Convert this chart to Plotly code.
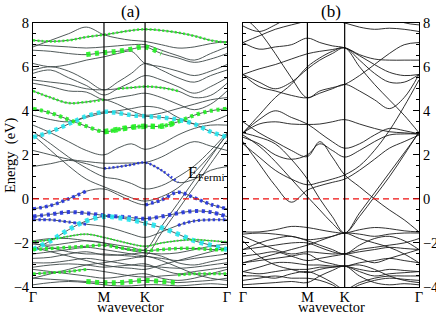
import plotly.graph_objects as go

# k-path nodes (fractional path length, hexagonal BZ: Γ-M-K-Γ)
k_nodes = [0.0, 0.144, 0.289, 0.433, 0.577, 0.688, 0.800, 0.911, 1.044, 1.178, 1.311, 1.444, 1.577]
k_ticks = [0.0, 0.577, 0.911, 1.577]
k_labels = ["Γ", "M", "K", "Γ"]

# ---------------- panel (a) bands (eV at k_nodes) ----------------
a01 = [6.9, 7.2, 7.5, 7.8, 7.45, 7.3, 7.2, 7.15, 7.0, 6.85, 6.9, 7.05, 7.15]
a02 = [7.2, 7.15, 7.2, 7.35, 7.45, 7.55, 7.65, 7.7, 7.65, 7.55, 7.4, 7.2, 7.1]
a03 = [7.0, 6.95, 6.9, 6.85, 6.9, 6.95, 7.0, 7.0, 6.75, 6.5, 6.3, 6.6, 6.9]
a04 = [6.75, 6.7, 6.6, 6.55, 6.65, 6.7, 6.8, 6.9, 6.6, 6.4, 6.2, 6.35, 6.6]
a05 = [6.15, 6.0, 6.1, 6.3, 6.45, 6.6, 6.7, 6.15, 6.0, 5.8, 5.6, 5.8, 6.1]
a06 = [5.85, 6.0, 5.8, 5.4, 4.95, 5.3, 5.7, 6.15, 5.85, 5.5, 5.3, 5.6, 5.85]
a07 = [5.7, 5.85, 5.5, 5.15, 4.72, 5.0, 5.3, 5.6, 5.4, 5.1, 4.8, 5.1, 5.5]
a08 = [5.4, 5.3, 5.2, 5.0, 4.95, 5.0, 5.05, 5.1, 5.05, 4.9, 4.6, 4.7, 5.25]
a09 = [5.25, 5.1, 4.9, 4.85, 4.5, 4.6, 4.7, 4.8, 4.6, 4.3, 4.05, 4.3, 4.9]
a10 = [4.9, 4.6, 4.35, 4.4, 4.5, 4.3, 4.0, 3.8, 3.9, 4.1, 4.3, 4.5, 4.6]
a11 = [4.1, 3.9, 3.6, 3.3, 3.05, 3.15, 3.25, 3.3, 3.3, 3.5, 3.8, 4.0, 4.1]
a12 = [2.8, 3.05, 3.4, 3.75, 3.95, 3.9, 3.8, 3.75, 3.7, 3.6, 3.4, 3.05, 2.8]
a13 = [3.8, 3.6, 3.5, 3.7, 3.9, 4.0, 4.1, 4.2, 4.1, 3.7, 3.4, 3.5, 3.8]
a14 = [3.35, 3.0, 2.6, 2.2, 2.0, 2.3, 2.5, 2.25, 2.5, 2.9, 3.2, 3.35, 3.35]
a15 = [3.05, 2.5, 1.9, 1.4, 1.0, 0.9, 0.7, 0.45, 0.6, 1.0, 1.5, 2.2, 3.0]
a16 = [2.9, 2.2, 1.5, 0.9, 0.55, 0.3, 0.05, -0.1, 0.1, 0.5, 1.2, 2.0, 2.9]
a17 = [1.47, 1.6, 1.75, 1.6, 1.38, 1.45, 1.55, 1.65, 1.3, 0.75, 0.9, 1.3, 1.47]
a18 = [2.2, 2.0, 1.8, 1.7, 1.62, 1.62, 1.63, 1.65, 1.9, 2.3, 2.6, 2.4, 2.2]
a19 = [-0.45, -0.3, 0.0, 0.35, 0.45, 0.2, -0.1, -0.27, -0.05, 0.3, 0.05, -0.25, -0.45]
a20 = [-0.8, -0.7, -0.6, -0.65, -0.75, -0.8, -0.85, -0.9, -0.8, -0.65, -0.55, -0.6, -0.8]
a21 = [-0.95, -0.95, -1.05, -1.15, -1.25, -1.4, -1.6, -1.75, -1.5, -1.2, -1.0, -0.95, -0.95]
a22 = [-2.3, -1.9, -1.4, -1.0, -0.8, -0.85, -0.95, -1.1, -1.3, -1.6, -1.9, -2.1, -2.3]
a23 = [-2.0, -2.2, -2.4, -2.5, -2.5, -2.55, -2.6, -2.6, -1.55, -0.5, 0.55, 1.6, 2.65]
a24 = [-1.9, -1.8, -1.8, -1.9, -2.0, -2.1, -2.2, -2.3, -1.25, -0.2, 0.85, 1.9, 2.95]
a25 = [-1.95, -1.85, -1.7, -1.6, -1.75, -1.9, -2.05, -2.15, -2.0, -1.9, -1.85, -1.9, -1.95]
a26 = [-2.3, -2.25, -2.2, -2.15, -2.1, -2.2, -2.3, -2.35, -2.3, -2.25, -2.25, -2.3, -2.3]
a27 = [-2.05, -2.1, -2.0, -1.9, -2.0, -2.2, -2.35, -2.45, -2.5, -2.45, -2.3, -2.15, -2.05]
a28 = [-2.5, -2.4, -2.3, -2.2, -2.3, -2.4, -2.5, -2.6, -2.7, -2.8, -2.7, -2.6, -2.5]
a29 = [-2.7, -2.65, -2.5, -2.4, -2.55, -2.55, -2.5, -2.45, -2.6, -2.9, -3.0, -2.85, -2.7]
a30 = [-2.9, -2.9, -2.8, -2.7, -2.8, -2.9, -3.0, -3.05, -3.1, -3.15, -3.1, -3.0, -2.9]
a31 = [-3.1, -3.0, -2.95, -3.0, -3.1, -3.05, -3.0, -2.95, -3.2, -3.4, -3.3, -3.2, -3.1]
a32 = [-3.4, -3.35, -3.3, -3.2, -3.3, -3.4, -3.5, -3.55, -3.5, -3.45, -3.4, -3.4, -3.4]
a33 = [-3.2, -3.3, -3.4, -3.5, -3.6, -3.55, -3.45, -3.4, -3.6, -3.7, -3.6, -3.4, -3.2]
a34 = [-3.6, -3.65, -3.7, -3.75, -3.8, -3.8, -3.75, -3.7, -3.75, -3.8, -3.75, -3.7, -3.6]
a35 = [-3.9, -3.8, -3.75, -3.8, -3.9, -3.95, -3.95, -3.9, -3.9, -3.95, -3.9, -3.85, -3.9]
a36 = [-2.2, -2.4, -2.6, -2.8, -3.0, -3.1, -3.15, -3.2, -3.0, -2.8, -2.6, -2.4, -2.2]
a37 = [-3.6, -3.4, -3.2, -3.0, -2.9, -2.8, -2.7, -2.6, -2.8, -3.1, -3.4, -3.6, -3.7]

bands_a = [a01, a02, a03, a04, a05, a06, a07, a08, a09, a10, a11, a12, a13, a14, a15, a16,
           a17, a18, a19, a20, a21, a22, a23, a24, a25, a26, a27, a28, a29, a30, a31, a32,
           a33, a34, a35, a36, a37]

# fat-band (projected weight) overlays: (band, first node, last node, colour, width)
GREEN, CYAN, BLUE = "#22ee22", "#22e5ee", "#2233dd"
fat_a = [
    (a02, 0, 12, GREEN, 2.5), (a04, 3, 8, GREEN, 5), (a08, 5, 9, GREEN, 2.5),
    (a10, 0, 4, GREEN, 2.5), (a11, 0, 12, GREEN, 4), (a11, 4, 9, GREEN, 5.5),
    (a12, 0, 12, CYAN, 4.5), (a17, 4, 9, BLUE, 2.5), (a19, 0, 3, BLUE, 3.5),
    (a19, 7, 12, BLUE, 3.5), (a20, 0, 12, BLUE, 4), (a21, 0, 3, BLUE, 3),
    (a21, 9, 12, BLUE, 3), (a22, 0, 12, CYAN, 5), (a26, 0, 12, GREEN, 3.5),
    (a32, 0, 3, GREEN, 3), (a32, 9, 12, GREEN, 3), (a34, 3, 9, GREEN, 5),
    (a25, 0, 12, GREEN, 2),
]

# ---------------- panel (b) bands ----------------
b01 = [7.85, 7.6, 7.9, 8.3, 8.5, 8.3, 8.1, 7.99, 7.8, 7.7, 7.75, 7.7, 7.6]
b02 = [7.1, 7.4, 7.7, 7.9, 8.1, 8.4, 8.3, 7.99, 8.2, 8.4, 8.3, 8.0, 7.9]
b03 = [5.65, 5.9, 6.1, 6.35, 6.59, 6.7, 6.78, 6.86, 6.55, 6.35, 6.3, 6.3, 6.3]
b04 = [7.1, 6.8, 6.9, 7.0, 7.3, 7.1, 6.95, 6.86, 6.5, 6.1, 5.75, 5.6, 5.65]
b05 = [5.65, 5.3, 5.0, 5.3, 5.9, 6.3, 6.6, 6.86, 6.3, 5.7, 5.3, 5.3, 5.65]
b06 = [5.65, 5.1, 4.9, 4.7, 4.59, 4.8, 5.0, 5.2, 4.9, 4.5, 4.1, 4.6, 5.65]
b07 = [8.3, 7.6, 6.6, 5.5, 4.59, 4.9, 5.05, 5.2, 5.6, 6.1, 6.6, 7.0, 7.1]
b08 = [3.0, 3.8, 4.6, 5.2, 6.0, 6.4, 6.7, 6.86, 6.0, 5.2, 4.5, 3.8, 3.0]
b09 = [3.0, 3.4, 3.5, 3.4, 3.38, 3.4, 3.5, 3.6, 3.4, 3.2, 3.05, 3.0, 2.95]
b10 = [3.0, 3.6, 4.0, 3.7, 3.4, 3.0, 2.6, 2.3, 2.5, 2.9, 3.2, 3.1, 2.95]
b11 = [2.8, 2.5, 2.0, 1.8, 2.0, 2.5, 2.2, 1.9, 2.2, 2.6, 2.9, 2.95, 2.95]
b12 = [2.5, 1.9, 1.3, 0.9, 0.64, 0.75, 0.9, 1.09, 1.5, 2.2, 3.1, 4.2, 5.4]
b13 = [3.5, 3.0, 2.6, 2.2, 1.92, 2.6, 1.9, 1.09, 0.55, 0.0, -0.5, -0.95, -1.5]
b14 = [-1.5, -1.5, -1.4, -1.25, -1.3, -1.4, -1.5, -1.55, -1.4, -1.3, -1.35, -1.45, -1.5]
b15 = [-1.6, -1.55, -1.6, -1.7, -1.85, -1.8, -1.7, -1.55, -1.6, -1.7, -1.6, -1.55, -1.55]
b16 = [-2.3, -2.0, -1.8, -1.7, -1.9, -2.1, -2.3, -2.5, -2.1, -1.8, -1.7, -1.9, -2.3]
b17 = [-2.3, -2.2, -2.1, -2.0, -2.0, -2.2, -2.4, -2.5, -2.4, -2.3, -2.2, -2.25, -2.3]
b18 = [-1.7, -2.0, -2.3, -2.5, -2.4, -2.45, -2.5, -2.5, -2.7, -2.9, -2.7, -2.5, -2.3]
b19 = [-2.6, -2.5, -2.4, -2.6, -2.8, -2.7, -2.6, -2.5, -2.3, -2.2, -2.1, -2.0, -1.8]
b20 = [-2.9, -2.8, -2.7, -2.6, -2.5, -2.8, -2.95, -3.05, -2.9, -2.8, -2.7, -2.8, -2.9]
b21 = [-3.3, -3.1, -2.9, -2.9, -3.0, -3.0, -3.05, -3.05, -3.2, -3.3, -3.2, -3.25, -3.3]
b22 = [-3.3, -3.4, -3.3, -3.2, -3.2, -3.1, -3.1, -3.05, -3.3, -3.5, -3.4, -3.35, -3.3]
b23 = [-3.5, -3.5, -3.6, -3.4, -3.3, -3.5, -3.8, -4.1, -3.8, -3.6, -3.5, -3.5, -3.5]
b24 = [-3.7, -3.6, -3.5, -3.6, -3.6, -3.7, -3.9, -4.2, -3.9, -3.7, -3.6, -3.65, -3.7]
b25 = [-3.9, -3.85, -3.8, -3.75, -3.8, -3.5, -3.25, -3.05, -3.5, -3.8, -3.9, -3.85, -3.9]
b26 = [-1.9, -2.6, -3.0, -3.2, -3.35, -3.2, -3.1, -3.05, -3.0, -3.2, -3.5, -3.7, -3.8]
b27 = [-2.9, -2.7, -2.5, -2.3, -2.1, -1.9, -1.7, -1.55, -1.8, -2.0, -2.2, -2.5, -2.9]
b28 = [3.0, 2.8, 2.5, 1.8, 0.9, 0.0, -0.8, -1.55, -0.64, 0.27, 1.18, 2.09, 3.0]
b29 = [2.9, 2.4, 1.7, 0.9, 0.1, -0.5, -1.1, -1.55, -0.8, 0.1, 1.0, 2.0, 3.05]
b30 = [2.6, 1.6, 0.6, -0.15, 0.4, 0.6, 0.75, 0.9, 1.3, 1.8, 2.3, 2.6, 2.9]

bands_b = [b01, b02, b03, b04, b05, b06, b07, b08, b09, b10, b11, b12, b13, b14, b15,
           b16, b17, b18, b19, b20, b21, b22, b23, b24, b25, b26, b27, b28, b29, b30]

fig = go.Figure()
LINE_A = "#3c4646"
LINE_B = "#1a1a1a"

for b in bands_a:
    fig.add_trace(go.Scatter(x=k_nodes, y=b, mode="lines", xaxis="x", yaxis="y",
                             line=dict(color=LINE_A, width=0.9, shape="spline", smoothing=1.0),
                             hoverinfo="skip", showlegend=False))
for b, i0, i1, col, w in fat_a:
    fig.add_trace(go.Scatter(x=k_nodes[i0:i1 + 1], y=b[i0:i1 + 1], mode="lines",
                             xaxis="x", yaxis="y",
                             line=dict(color=col, width=w, shape="spline", smoothing=1.0,
                                       dash=f"{w*0.8:.1f}px,{w*0.9:.1f}px"),
                             opacity=0.9, hoverinfo="skip", showlegend=False))
for b in bands_b:
    fig.add_trace(go.Scatter(x=k_nodes, y=b, mode="lines", xaxis="x2", yaxis="y2",
                             line=dict(color=LINE_B, width=0.9, shape="spline", smoothing=1.0),
                             hoverinfo="skip", showlegend=False))

W, H = 436, 314
ydom = [1 - 287 / H, 1 - 22.7 / H]
FONT = "Liberation Serif, Times New Roman, serif"

def xax(dom, anchor):
    return dict(domain=dom, range=[0, 1.577], tickvals=k_ticks, ticktext=k_labels, anchor=anchor,
                ticks="", showgrid=False, zeroline=False, showline=True, mirror=True,
                automargin=False, ticklabelstandoff=-3,
                linecolor="black", linewidth=1, tickfont=dict(family=FONT, size=14.5, color="black"))

def yax(anchor, side):
    return dict(domain=ydom, range=[-4, 8], dtick=2, tick0=0, ticks="inside", ticklen=6,
                tickcolor="black", tickwidth=1, mirror="allticks", side=side, anchor=anchor,
                showgrid=False, zeroline=False, showline=True, linecolor="black", linewidth=1,
                automargin=False,
                minor=dict(dtick=0.5, ticks="inside", ticklen=3, tickcolor="black", showgrid=False),
                tickfont=dict(family=FONT, size=14.5, color="black"))

shapes = []
for xr, yr in (("x", "y"), ("x2", "y2")):
    shapes.append(dict(type="line", xref=xr, yref=yr, x0=0, x1=1.577, y0=0, y1=0,
                       line=dict(color="#ee1111", width=1.2, dash="6px,4px")))
    for kv in (0.577, 0.911):
        shapes.append(dict(type="line", xref=xr, yref=yr, x0=kv, x1=kv, y0=-4, y1=8,
                           line=dict(color="black", width=1.2)))

def pa(text, x, y, size, **kw):
    return dict(text=text, x=x / W, y=1 - y / H, xref="paper", yref="paper",
                xanchor="center", yanchor="middle", showarrow=False,
                font=dict(family=FONT, size=size, color="black"), **kw)

annotations = [
    pa("(a)", (33 + 227) / 2, 12, 17),
    pa("(b)", (243 + 419) / 2, 12, 17),
    pa("wavevector", (33 + 227) / 2, 307, 14.5),
    pa("wavevector", (243 + 419) / 2, 307, 14.5),
    pa("Energy  (eV)", 10, 155, 14.5, textangle=-90),
    dict(text="E<sub>Fermi</sub>", x=1.245, y=1.15, xref="x", yref="y", xanchor="left",
         yanchor="middle", showarrow=False, font=dict(family=FONT, size=16, color="black")),
]

fig.update_layout(
    width=W, height=H, margin=dict(l=0, r=0, t=0, b=0, autoexpand=False),
    paper_bgcolor="white", plot_bgcolor="white",
    xaxis=xax([33 / W, 227 / W], "y"), yaxis=yax("x", "left"),
    xaxis2=xax([243 / W, 419 / W], "y2"), yaxis2=yax("x2", "right"),
    shapes=shapes, annotations=annotations, showlegend=False,
)
fig.write_html("out.html", include_plotlyjs=True, full_html=True,
               config={"displayModeBar": False, "staticPlot": True},
               post_script="document.body.style.margin='0';document.body.style.overflow='hidden';")
